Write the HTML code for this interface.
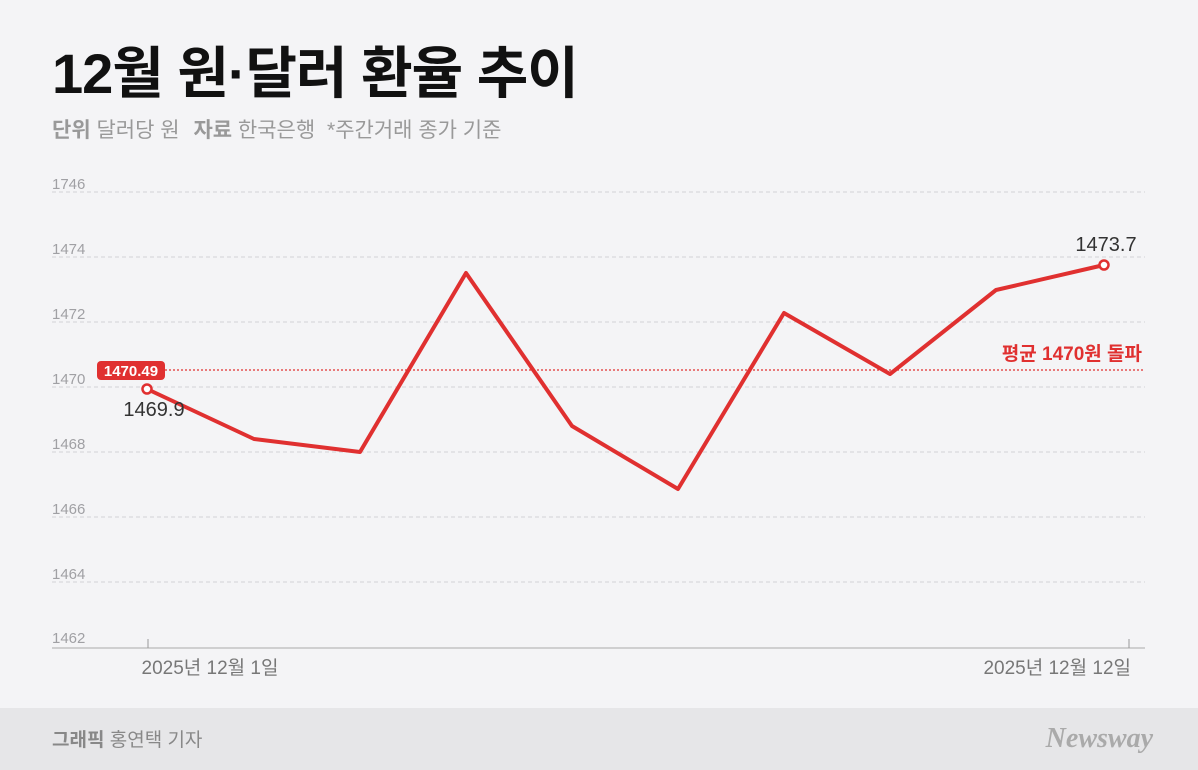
<!DOCTYPE html>
<html><head><meta charset="utf-8"><style>
body{margin:0;width:1198px;height:770px;background:#f4f4f6;overflow:hidden;font-family:"Liberation Sans","Noto Sans CJK KR",sans-serif;}
</style></head><body>
<svg width="1198" height="770" xmlns="http://www.w3.org/2000/svg" style="position:absolute;left:0;top:0">
<rect x="0" y="0" width="1198" height="770" fill="#f4f4f6"/>
<rect x="0" y="708" width="1198" height="62" fill="#e6e6e8"/>
<text x="52" y="93" font-size="56" font-weight="bold" fill="#111" font-family="Liberation Sans, Noto Sans CJK KR, sans-serif" letter-spacing="-1">12월 원·달러 환율 추이</text>
<text x="52" y="137" font-size="21" fill="#999" font-family="Liberation Sans, Noto Sans CJK KR, sans-serif"><tspan font-weight="bold">단위</tspan> 달러당 원  <tspan font-weight="bold" dx="8">자료</tspan> 한국은행  <tspan dx="6">*주간거래 종가 기준</tspan></text>
<g stroke="#d2d2d6" stroke-width="1" stroke-dasharray="4,3">
<line x1="52" y1="192" x2="1145" y2="192"/><line x1="52" y1="257" x2="1145" y2="257"/>
<line x1="52" y1="322" x2="1145" y2="322"/><line x1="52" y1="387" x2="1145" y2="387"/>
<line x1="52" y1="452" x2="1145" y2="452"/><line x1="52" y1="517" x2="1145" y2="517"/>
<line x1="52" y1="582" x2="1145" y2="582"/>
</g>
<g font-size="15" fill="#a0a0a4" font-family="Liberation Sans, sans-serif">
<text x="52" y="189">1746</text><text x="52" y="254">1474</text><text x="52" y="319">1472</text>
<text x="52" y="384">1470</text><text x="52" y="449">1468</text><text x="52" y="514">1466</text>
<text x="52" y="579">1464</text><text x="52" y="643">1462</text>
</g>
<line x1="52" y1="648" x2="1145" y2="648" stroke="#aaa" stroke-width="1"/>
<line x1="148" y1="639" x2="148" y2="648" stroke="#999"/><line x1="1129" y1="639" x2="1129" y2="648" stroke="#999"/>
<text x="210" y="674" font-size="19" fill="#777" text-anchor="middle">2025년 12월 1일</text>
<text x="1131" y="674" font-size="19" fill="#777" text-anchor="end">2025년 12월 12일</text>
<line x1="165" y1="370" x2="1145" y2="370" stroke="#e03030" stroke-width="1.2" stroke-dasharray="2,2"/>
<rect x="97" y="361" width="68" height="19" rx="4" fill="#e03030"/>
<text x="131" y="376" font-size="15" font-weight="bold" fill="#fff" text-anchor="middle">1470.49</text>
<text x="1142" y="360" font-size="19" font-weight="bold" fill="#e03030" text-anchor="end">평균 1470원 돌파</text>
<polyline fill="none" stroke="#e03030" stroke-width="4" stroke-linejoin="round" points="147,389 254,439 360,452 466,273 572,426 678,489 784,313 890,374 996,290 1104,265"/>
<circle cx="147" cy="389" r="4.5" fill="#fff" stroke="#e03030" stroke-width="2.5"/>
<circle cx="1104" cy="265" r="4.5" fill="#fff" stroke="#e03030" stroke-width="2.5"/>
<text x="154" y="416" font-size="20" fill="#333" text-anchor="middle">1469.9</text>
<text x="1106" y="251" font-size="20" fill="#333" text-anchor="middle">1473.7</text>
<text x="52" y="746" font-size="19" fill="#888"><tspan font-weight="bold">그래픽</tspan> 홍연택 기자</text>
<text x="1153" y="747" font-size="28" font-weight="bold" font-style="italic" fill="#aaa" text-anchor="end" font-family="Liberation Serif, serif">Newsway</text>
</svg>
</body></html>
